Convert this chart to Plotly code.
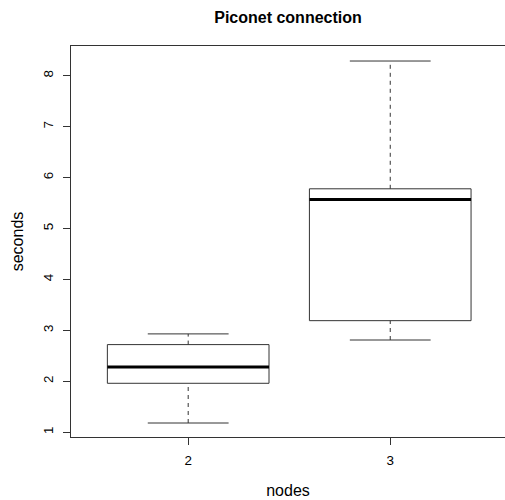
import plotly.graph_objects as go

categories = ["2", "3"]
lower_whisker = [1.18, 2.81]
q1_values = [1.96, 3.19]
median_values = [2.28, 5.57]
q3_values = [2.72, 5.78]
upper_whisker = [2.93, 8.29]
y_ticks = [1, 2, 3, 4, 5, 6, 7, 8]

positions = [1, 2]
half_box = 0.4
half_cap = 0.2
line_col = "#333333"

fig = go.Figure()
for i, pos in enumerate(positions):
    # dashed whiskers
    fig.add_trace(go.Scatter(
        x=[pos, pos, None, pos, pos],
        y=[lower_whisker[i], q1_values[i], None, q3_values[i], upper_whisker[i]],
        mode="lines", line=dict(color=line_col, width=1, dash="4px,4px"),
        hoverinfo="skip", showlegend=False))
    # staples
    fig.add_trace(go.Scatter(
        x=[pos - half_cap, pos + half_cap, None, pos - half_cap, pos + half_cap],
        y=[lower_whisker[i], lower_whisker[i], None, upper_whisker[i], upper_whisker[i]],
        mode="lines", line=dict(color=line_col, width=1),
        hoverinfo="skip", showlegend=False))
    # box
    fig.add_trace(go.Scatter(
        x=[pos - half_box, pos + half_box, pos + half_box, pos - half_box, pos - half_box],
        y=[q1_values[i], q1_values[i], q3_values[i], q3_values[i], q1_values[i]],
        mode="lines", line=dict(color=line_col, width=1),
        hoverinfo="skip", showlegend=False))
    # median
    fig.add_trace(go.Scatter(
        x=[pos - half_box, pos + half_box],
        y=[median_values[i], median_values[i]],
        mode="lines", line=dict(color="black", width=3),
        hoverinfo="skip", showlegend=False))

font_family = "Liberation Sans, Arial, Helvetica, sans-serif"
fig.update_layout(
    width=505, height=500,
    margin=dict(l=71, r=0, t=46, b=63),
    paper_bgcolor="white", plot_bgcolor="white",
    font=dict(family=font_family, size=13.4, color="black"),
    title=dict(text="<b>Piconet connection</b>", x=0.5, xref="paper",
               y=1 - 17 / 500, yanchor="middle", font=dict(size=16)),
    xaxis=dict(range=[0.42, 2.568], tickvals=positions, ticktext=categories,
               ticks="outside", ticklen=7, tickcolor=line_col,
               showline=True, linecolor=line_col, linewidth=1, mirror=True,
               showgrid=False, zeroline=False, ticklabelstandoff=4,
               title=dict(text="nodes", standoff=17), tickfont=dict(size=13.4)),
    yaxis=dict(range=[0.905, 8.585], tickvals=y_ticks,
               ticks="outside", ticklen=7, tickcolor=line_col, tickangle=-90,
               showline=True, linecolor=line_col, linewidth=1, mirror=False,
               showgrid=False, zeroline=False, ticklabelstandoff=5,
               title=dict(text="seconds", standoff=13), tickfont=dict(size=13.4)),
)

fig.write_html("out.html", config={"displayModeBar": False},
               post_script="document.body.style.margin='0px';document.body.style.overflow='hidden';")
